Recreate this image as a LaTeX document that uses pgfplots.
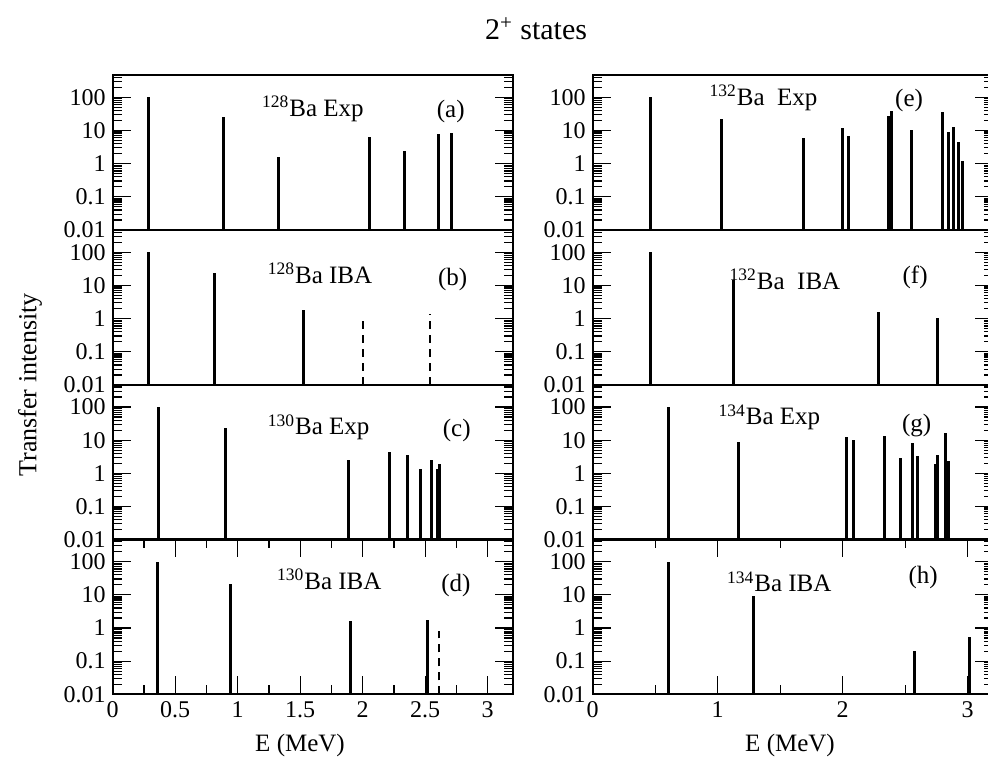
\documentclass[border=0pt]{standalone}
\usepackage{pgfplots}
\pgfplotsset{compat=1.18}
\usepackage{fontspec}
\setmainfont{Liberation Serif}
\pgfplotsset{
  panel/.style={
    scale only axis, width=200pt, height=77.5pt, anchor=south west,
    ymin=0.01, ymax=470, xmin=0, xmax=3.2,
    log origin y=infty,
    ytick={0.01,0.1,1,10,100}, yticklabels={0.01,0.1,1,10,100},
    minor ytick={0.02,0.03,0.04,0.05,0.06,0.07,0.08,0.09,0.2,0.3,0.4,0.5,0.6,0.7,0.8,0.9,2,3,4,5,6,7,8,9,20,30,40,50,60,70,80,90,200,300,400},
    xtick=\empty,
    major tick length=9pt, minor tick length=4.5pt,
    axis line style={line width=1pt},
    every tick/.style={black, line width=0.6pt},
    tick label style={font=\fontsize{12}{14}\selectfont},
  },
  combbars/.style={black, ycomb, no marks, line width=1.5pt},
  dcombbars/.style={black, ycomb, no marks, line width=1pt, dash pattern=on 4pt off 3pt},
}
\tikzset{
  lab/.style={font=\fontsize{12.5}{14}\selectfont, anchor=base west, inner sep=0pt},
  plab/.style={font=\fontsize{12.5}{14}\selectfont, anchor=base, inner sep=0pt},
}
\begin{document}
\begin{tikzpicture}
% ---- left column ----
\begin{semilogyaxis}[panel, at={(56.35pt,266.5pt)}]
\addplot[combbars] coordinates {(0.285,100) (0.885,26) (1.325,1.63) (2.058,6.2) (2.338,2.4) (2.605,7.7) (2.712,8.2)};
\node[lab] at (axis description cs:0.3725,0.731) {\textsuperscript{128}Ba Exp};
\node[plab] at (axis description cs:0.845,0.728) {(a)};
\end{semilogyaxis}
\begin{semilogyaxis}[panel, at={(56.35pt,189pt)}]
\addplot[combbars] coordinates {(0.285,100) (0.818,24.4) (1.525,1.82)};
\addplot[dcombbars] coordinates {(2.005,1.23) (2.538,1.35)};
\node[lab] at (axis description cs:0.387,0.656) {\textsuperscript{128}Ba IBA};
\node[plab] at (axis description cs:0.85,0.642) {(b)};
\end{semilogyaxis}
\begin{semilogyaxis}[panel, at={(56.35pt,111.65pt)}]
\addplot[combbars] coordinates {(0.365,100) (0.906,23.3) (1.885,2.58) (2.213,4.5) (2.36,3.57) (2.466,1.38) (2.552,2.58) (2.597,1.38) (2.613,1.91)};
\node[lab] at (axis description cs:0.387,0.677) {\textsuperscript{130}Ba Exp};
\node[plab] at (axis description cs:0.86,0.663) {(c)};
\end{semilogyaxis}
\begin{semilogyaxis}[panel, at={(56.35pt,34.35pt)},
  xtick={0,0.5,1,1.5,2,2.5,3}, xticklabels={0,0.5,1,1.5,2,2.5,3},
  minor xtick={0.25,0.75,1.25,1.75,2.25,2.75}]
\addplot[combbars] coordinates {(0.36,100) (0.941,21.2) (1.901,1.66) (2.517,1.78)};
\addplot[dcombbars] coordinates {(2.61,0.79)};
\node[lab] at (axis description cs:0.41,0.675) {\textsuperscript{130}Ba IBA};
\node[plab] at (axis description cs:0.858,0.66) {(d)};
\end{semilogyaxis}
% ---- right column ----
\begin{semilogyaxis}[panel, at={(296.35pt,266.5pt)}]
\addplot[combbars] coordinates {(0.464,100) (1.032,21.7) (1.685,5.8) (1.997,11.6) (2.045,6.7) (2.37,27.4) (2.392,37.8) (2.552,10.1) (2.797,35.3) (2.85,8.8) (2.885,13) (2.925,4.4) (2.957,1.23)};
\node[lab] at (axis description cs:0.2915,0.806) {\textsuperscript{132}Ba\ \ Exp};
\node[plab] at (axis description cs:0.791,0.794) {(e)};
\end{semilogyaxis}
\begin{semilogyaxis}[panel, at={(296.35pt,189pt)}]
\addplot[combbars] coordinates {(0.464,100) (1.13,14.7) (2.288,1.63) (2.757,1.02)};
\node[lab] at (axis description cs:0.3415,0.619) {\textsuperscript{132}Ba\ \ IBA};
\node[plab] at (axis description cs:0.806,0.653) {(f)};
\end{semilogyaxis}
\begin{semilogyaxis}[panel, at={(296.35pt,111.65pt)}]
\addplot[combbars] coordinates {(0.605,100) (1.165,8.8) (2.029,12.4) (2.085,10.1) (2.336,13) (2.464,2.9) (2.562,8.2) (2.6,3.4) (2.744,1.91) (2.76,3.66) (2.824,16.4) (2.845,2.36)};
\node[lab] at (axis description cs:0.314,0.741) {\textsuperscript{134}Ba Exp};
\node[plab] at (axis description cs:0.81,0.696) {(g)};
\end{semilogyaxis}
\begin{semilogyaxis}[panel, at={(296.35pt,34.35pt)},
  xtick={0,1,2,3}, xticklabels={0,1,2,3},
  minor xtick={0.5,1.5,2.5}]
\addplot[combbars] coordinates {(0.605,100) (1.285,9.0) (2.578,0.207) (3.013,0.52)};
\node[lab] at (axis description cs:0.335,0.66) {\textsuperscript{134}Ba IBA};
\node[plab] at (axis description cs:0.826,0.715) {(h)};
\end{semilogyaxis}
% ---- labels ----
\node[font=\fontsize{13}{15}\selectfont, rotate=90] at (15pt,189pt) {Transfer intensity};
\node[font=\fontsize{12.5}{15}\selectfont] at (150pt,9pt) {E (MeV)};
\node[font=\fontsize{12.5}{15}\selectfont] at (395pt,9pt) {E (MeV)};
\node[font=\fontsize{15}{17}\selectfont, anchor=base] at (268pt,361.5pt) {2\textsuperscript{+} states};
\pgfresetboundingbox
\path[use as bounding box] (0,0) rectangle (494pt,381.5pt);
\end{tikzpicture}
\end{document}
